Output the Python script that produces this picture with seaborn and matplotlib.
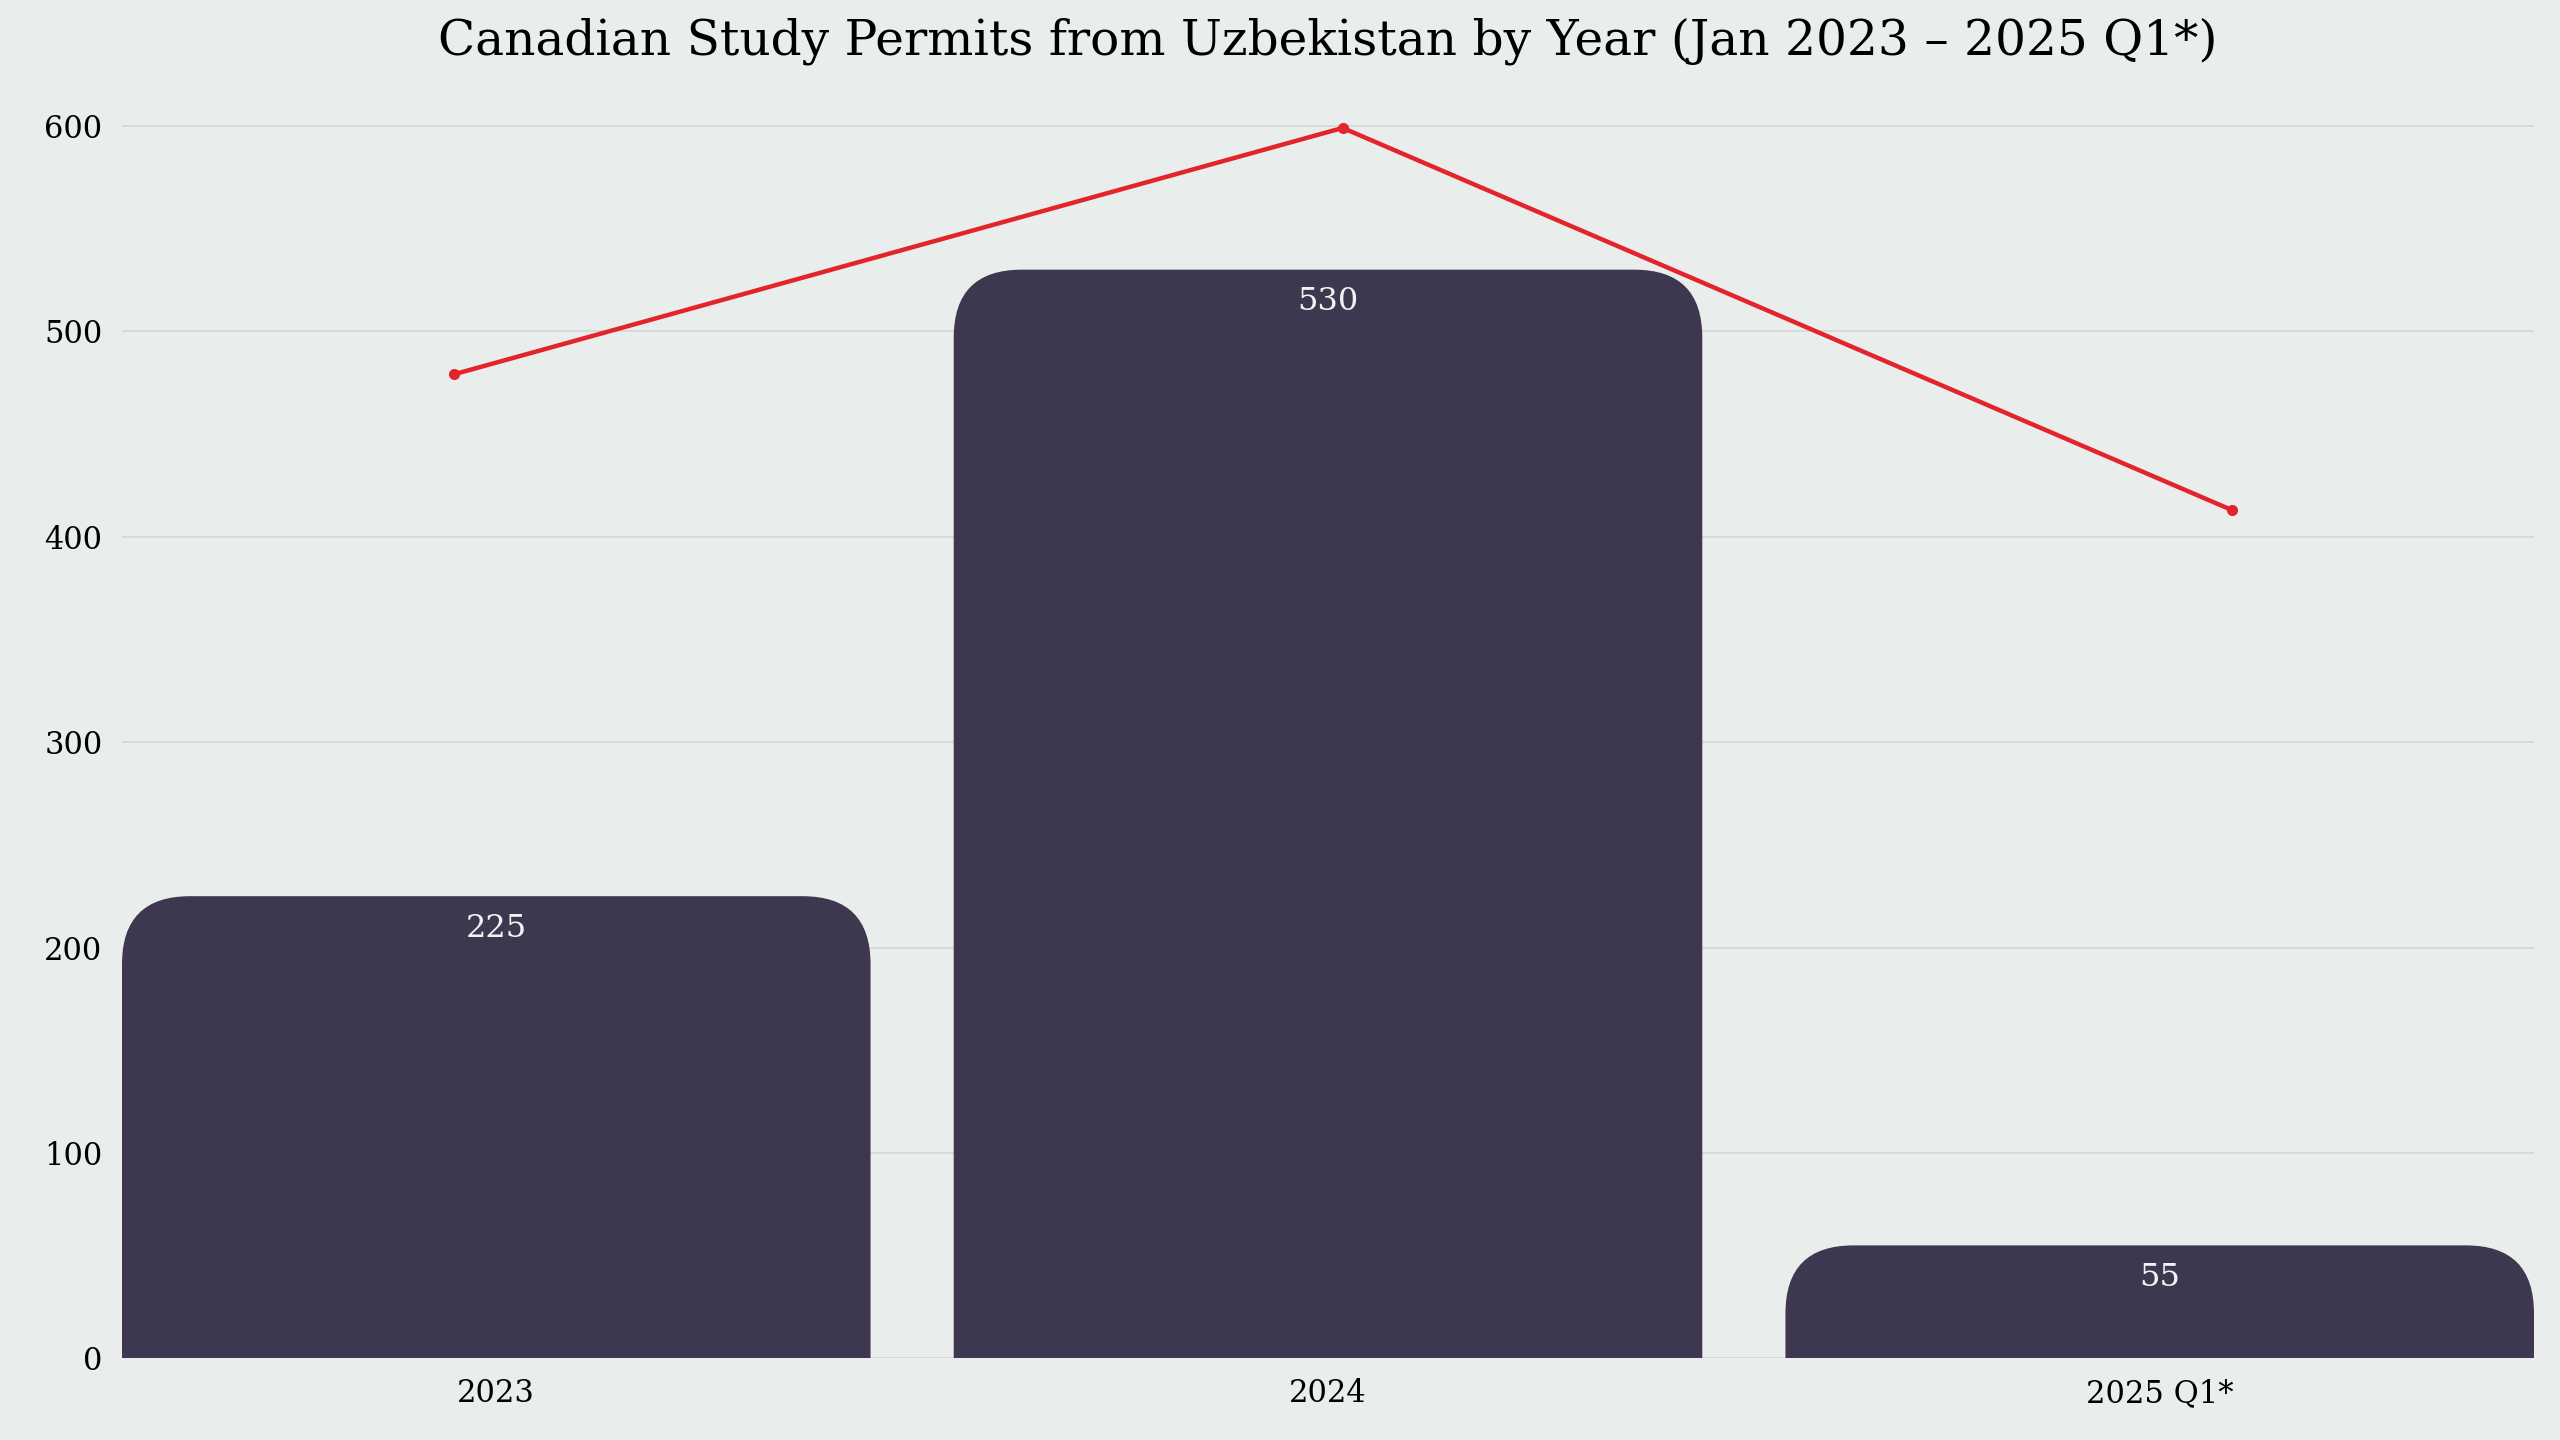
import matplotlib
matplotlib.use("Agg")
import matplotlib.pyplot as plt
import seaborn as sns
import pandas as pd
from matplotlib.path import Path
from matplotlib.patches import PathPatch
from matplotlib.transforms import IdentityTransform

years = ["2023", "2024", "2025 Q1*"]
permits = [225, 530, 55]
trend = [479, 599, 413]

BG = "#e9edeb"
BAR = "#3d384f"
RED = "#e3242b"
FONT = "DejaVu Serif"

fig = plt.figure(figsize=(25.6, 14.4), dpi=100, facecolor=BG)
ax = fig.add_axes([122/2560, 1 - 832/882, (2534-122)/2560, (832-62)/882])
ax.set_facecolor(BG)
df = pd.DataFrame({"year": years, "permits": permits})
sns.barplot(data=df, x="year", y="permits", color=BAR, width=0.9, saturation=1, ax=ax)
ax.set_xlim(-0.45, 2.45)
ax.set_ylim(0, 612)
ax.set_yticks(range(0, 601, 100))
ax.grid(axis="y", color="#d3d7d6", lw=1.2)
ax.set_axisbelow(True)
for s in ax.spines.values():
    s.set_visible(False)
ax.tick_params(length=0, labelsize=22, pad=14)
for lab in ax.get_xticklabels() + ax.get_yticklabels():
    lab.set_fontfamily(FONT)
ax.set_xlabel(""); ax.set_ylabel("")
ax.set_title("Canadian Study Permits from Uzbekistan by Year (Jan 2023 \u2013 2025 Q1*)",
             fontsize=35, fontfamily=FONT, pad=34)

fig.canvas.draw()
r = 68
for p, v in zip(list(ax.patches), permits):
    x0, y0 = ax.transData.transform((p.get_x(), 0))
    x1, y1 = ax.transData.transform((p.get_x() + p.get_width(), p.get_height()))
    rr = min(r, (y1 - y0))
    verts = [(x0, y0), (x0, y1 - rr), (x0, y1), (x0 + rr, y1), (x1 - rr, y1),
             (x1, y1), (x1, y1 - rr), (x1, y0), (x0, y0)]
    codes = [Path.MOVETO, Path.LINETO, Path.CURVE3, Path.CURVE3, Path.LINETO,
             Path.CURVE3, Path.CURVE3, Path.LINETO, Path.CLOSEPOLY]
    p.set_visible(False)
    ax.add_patch(PathPatch(Path(verts, codes), facecolor=BAR, edgecolor="none",
                           transform=IdentityTransform(), zorder=2))
    ax.text(p.get_x() + p.get_width()/2, v - 8, str(v), ha="center", va="top",
            color="#f2f2f2", fontsize=23, fontfamily=FONT, zorder=3)

ax2 = ax.twiny()
sns.lineplot(x=[0, 1, 2], y=trend, color=RED, lw=3.2, marker="o", markersize=8,
             markeredgewidth=0, ax=ax2, zorder=4)
ax2.set_xlim(-0.373, 2.34)
ax2.set_ylim(0, 612)
ax2.axis("off")

fig.savefig("out.png", dpi=100, facecolor=BG)
